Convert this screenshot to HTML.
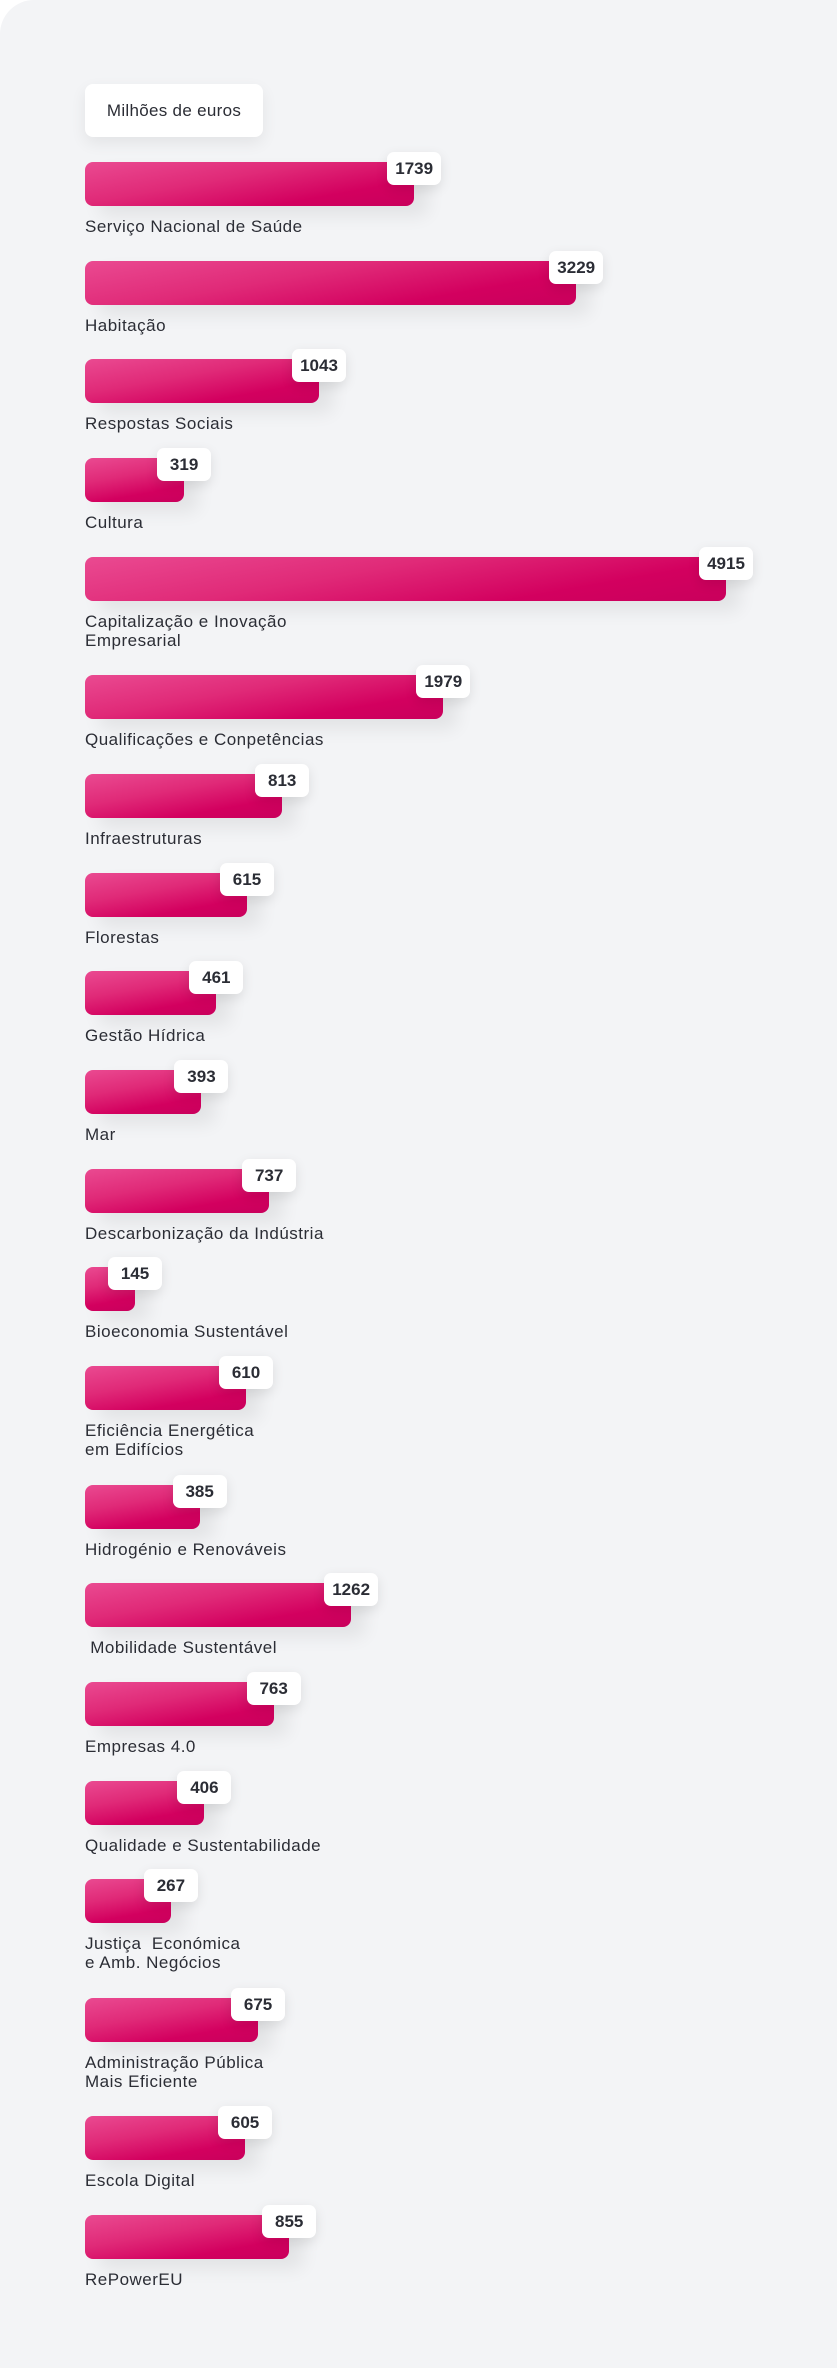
<!DOCTYPE html>
<html><head><meta charset="utf-8">
<style>
html,body{margin:0;padding:0;background:#fff;}
#card{position:relative;width:837px;height:2368px;background:#f3f4f6;border-radius:34px 0 0 0;overflow:hidden;font-family:"Liberation Sans",sans-serif;}
.unit{position:absolute;left:85px;top:84px;width:178px;height:53px;background:#fff;border-radius:8px;box-shadow:0 6px 16px rgba(0,0,0,0.07);font-size:17px;letter-spacing:0.3px;color:#2b2d35;line-height:53px;text-align:center;}
.bar{position:absolute;height:44px;border-radius:8px;background:linear-gradient(170deg,#ea4a91 0%,#e02a78 40%,#d3005f 75%,#c9005c 100%);box-shadow:14px 10px 18px rgba(0,0,0,0.07);}
.badge{position:absolute;width:54px;height:33px;background:#fff;border-radius:7px;box-shadow:0 4px 12px rgba(0,0,0,0.1);font-weight:bold;font-size:17px;color:#2b2d35;line-height:33px;text-align:center;}
.lbl{position:absolute;left:85px;font-size:17px;letter-spacing:0.5px;color:#2b2d35;line-height:19px;white-space:pre;}
</style></head>
<body>
<div id="card">
<div class="unit">Milhões de euros</div>
</div>
<script>
const categories=["Serviço Nacional de Saúde","Habitação","Respostas Sociais","Cultura","Capitalização e Inovação\nEmpresarial","Qualificações e Conpetências","Infraestruturas","Florestas","Gestão Hídrica","Mar","Descarbonização da Indústria","Bioeconomia Sustentável","Eficiência Energética\nem Edifícios","Hidrogénio e Renováveis"," Mobilidade Sustentável","Empresas 4.0","Qualidade e Sustentabilidade","Justiça  Económica\ne Amb. Negócios","Administração Pública\nMais Eficiente","Escola Digital","RePowerEU"];
const values=[1739,3229,1043,319,4915,1979,813,615,461,393,737,145,610,385,1262,763,406,267,675,605,855];
const valueLabels=["1739","3229","1043","319","4915","1979","813","615","461","393","737","145","610","385","1262","763","406","267","675","605","855"];
const card=document.getElementById('card');
const X0=85, P=0.6, VMIN=145, VMAX=4915, WMIN=50, WMAX=641;
function xScale(v){
  const a=Math.pow(VMIN,P), b=Math.pow(VMAX,P);
  return WMIN+(Math.pow(v,P)-a)/(b-a)*(WMAX-WMIN);
}
let y=162;
categories.forEach((c,i)=>{
  const w=xScale(values[i]);
  const b=document.createElement('div');
  b.className='bar';
  
  
  b.style.left=X0+'px';b.style.top=y+'px';b.style.width=w+'px';
  card.appendChild(b);
  const bd=document.createElement('div');
  bd.className='badge';
  
  
  bd.textContent=valueLabels[i];
  bd.style.left=(X0+w+27-54)+'px';bd.style.top=(y-10)+'px';
  card.appendChild(bd);
  const l=document.createElement('div');
  l.className='lbl';
  
  
  l.textContent=c;
  l.style.top=(y+55)+'px';
  card.appendChild(l);
  const lines=c.split('\n').length;
  y+=98.7+(lines-1)*19.7;
});
</script>
</body></html>
